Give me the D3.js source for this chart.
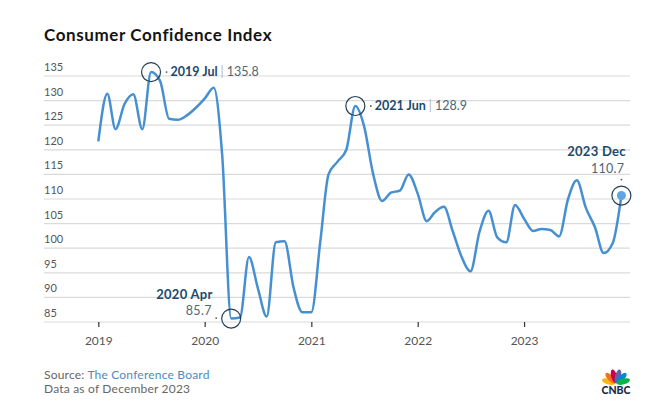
<!DOCTYPE html>
<html>
<head>
<meta charset="utf-8">
<script src="https://cdn.jsdelivr.net/npm/d3@7"></script>
<style>
  body { margin: 0; background: #fff; }
  svg { font-family: Lato, "Open Sans", sans-serif; }
</style>
</head>
<body>
<div class="canvas"></div>
<script>

// monthly index values, Jan..Dec
const years = [2019, 2020, 2021, 2022, 2023];
const cci2019 = [121.7, 131.4, 124.2, 129.3, 131.3, 124.2, 135.8, 134.0, 126.3, 126.1, 127.0, 128.5];
const cci2020 = [130.4, 132.6, 119.0, 85.7, 85.9, 98.2, 92.0, 86.1, 101.2, 101.4, 92.0, 87.0];
const cci2021 = [87.0, 101.5, 115.0, 117.6, 120.0, 128.9, 124.8, 115.1, 109.6, 111.3, 111.7, 115.0];
const cci2022 = [111.1, 105.5, 107.3, 108.4, 103.5, 98.2, 95.3, 103.3, 107.6, 102.2, 101.2, 108.8];
const cci2023 = [106.0, 103.5, 103.9, 103.7, 102.4, 110.0, 113.8, 108.2, 104.3, 99.0, 101.0, 110.7];
const yTicks = [85, 90, 95, 100, 105, 110, 115, 120, 125, 130, 135];

const highlights = [
  { year: 2019, month: 7, name: '2019 Jul', value: 135.8, side: 'right' },
  { year: 2020, month: 4, name: '2020 Apr', value: 85.7, side: 'left' },
  { year: 2021, month: 6, name: '2021 Jun', value: 128.9, side: 'right' },
  { year: 2023, month: 12, name: '2023 Dec', value: 110.7, side: 'top' }
];

const dims = { width: 660, height: 414 };

const svg = d3.select('.canvas')
  .append('svg')
  .attr('width', dims.width)
  .attr('height', dims.height);

const series = [cci2019, cci2020, cci2021, cci2022, cci2023];
const data = years.flatMap((yr, i) =>
  series[i].map((v, m) => ({ date: new Date(yr, m, 1), value: v })));

const x = d3.scaleTime()
  .domain([new Date(2019, 0, 1), new Date(2023, 11, 1)])
  .range([98.3, 621.4]);

const y = d3.scaleLinear()
  .domain([85, 135])
  .range([322, 76]);

// title
svg.append('text')
  .attr('x', 44).attr('y', 41)
  .attr('font-size', 17)
  .attr('font-weight', 700)
  .attr('letter-spacing', 0.6)
  .attr('fill', '#141414')
  .text('Consumer Confidence Index');

// grid + y labels
const grid = svg.append('g');
grid.selectAll('line').data(yTicks).enter().append('line')
  .attr('x1', 44).attr('x2', 630)
  .attr('y1', d => y(d)).attr('y2', d => y(d))
  .attr('stroke', '#dadada')
  .attr('stroke-width', 1.2);

grid.selectAll('text').data(yTicks).enter().append('text')
  .attr('x', 44).attr('y', d => y(d) - 5)
  .attr('font-size', 11)
  .attr('fill', '#555')
  .text(d => d);

// x axis
const xAxis = svg.append('g')
  .attr('transform', `translate(0, ${y(85)})`)
  .call(d3.axisBottom(x)
    .tickValues(years.map(yr => new Date(yr, 0, 1)))
    .tickFormat(d3.timeFormat('%Y'))
    .tickSize(5)
    .tickPadding(9.5));
xAxis.select('.domain').remove();
xAxis.selectAll('.tick line').attr('stroke', '#333').attr('stroke-width', 1.2);
xAxis.selectAll('.tick text')
  .attr('font-family', 'Lato, "Open Sans", sans-serif')
  .attr('font-size', 12)
  .attr('fill', '#555');

// line
const line = d3.line()
  .x(d => x(d.date))
  .y(d => y(d.value))
  .curve(d3.curveMonotoneX);

svg.append('path')
  .datum(data)
  .attr('d', line)
  .attr('fill', 'none')
  .attr('stroke', '#4690d2')
  .attr('stroke-width', 2.5)
  .attr('stroke-linejoin', 'round');

// highlights
const hl = svg.selectAll('.hl').data(highlights).enter()
  .append('g')
  .attr('class', 'hl')
  .attr('transform', d => `translate(${x(new Date(d.year, d.month - 1, 1))}, ${y(d.value)})`);

hl.filter(d => d.side === 'top').append('circle')
  .attr('r', 4.5)
  .attr('fill', '#5ea6e2');

hl.append('circle')
  .attr('r', 9.5)
  .attr('fill', 'none')
  .attr('stroke', '#243f55')
  .attr('stroke-width', 1.2);

hl.each(function(d) {
  const g = d3.select(this);
  if (d.side === 'right') {
    g.append('circle').attr('cx', 15.5).attr('cy', 0).attr('r', 0.9).attr('fill', '#555');
    const t = g.append('text').attr('x', 19.5).attr('y', 4)
      .attr('font-size', 12.5);
    t.append('tspan').attr('font-weight', 700).attr('fill', '#1b4a6a').text(d.name);
    t.append('tspan').attr('fill', '#b5b5b5').attr('dx', 3).text('|');
    t.append('tspan').attr('fill', '#4e6678').attr('dx', 3).text(d.value);
  } else if (d.side === 'left') {
    g.append('circle').attr('cx', -15).attr('cy', -0.5).attr('r', 0.9).attr('fill', '#555');
    g.append('text').attr('x', -18.5).attr('y', -20)
      .attr('text-anchor', 'end').attr('font-size', 13).attr('font-weight', 700)
      .attr('letter-spacing', 0.3)
      .attr('fill', '#1b4a6a').text(d.name);
    g.append('text').attr('x', -19.5).attr('y', -4)
      .attr('text-anchor', 'end').attr('font-size', 12.5).attr('fill', '#4e6678')
      .attr('letter-spacing', 0.3)
      .text(d.value);
  } else {
    g.append('circle').attr('cx', 0).attr('cy', -16).attr('r', 0.9).attr('fill', '#555');
    g.append('text').attr('x', 4.5).attr('y', -39.5)
      .attr('text-anchor', 'end').attr('font-size', 13).attr('font-weight', 700)
      .attr('letter-spacing', 0.3)
      .attr('fill', '#1b4a6a').text(d.name);
    g.append('text').attr('x', 3).attr('y', -23)
      .attr('text-anchor', 'end').attr('font-size', 12.5).attr('fill', '#4e6678')
      .attr('letter-spacing', 0.3)
      .text(d.value);
  }
});

// footer
const src = svg.append('text').attr('x', 44).attr('y', 379)
  .attr('font-size', 12).attr('letter-spacing', 0.2);
src.append('tspan').attr('fill', '#666').text('Source: ');
src.append('tspan').attr('fill', '#4a8ac4').text('The Conference Board');
svg.append('text').attr('x', 44).attr('y', 393).attr('font-size', 12)
  .attr('letter-spacing', 0.2)
  .attr('fill', '#666').text('Data as of December 2023');

// CNBC peacock
const logo = svg.append('g').attr('transform', 'translate(616, 383.5)');
const feathers = ['#fcb711', '#f37021', '#cc004c', '#6460aa', '#0089d0', '#0db14b'];
feathers.forEach((c, i) => {
  const a = -75 + i * 30;
  logo.append('ellipse')
    .attr('cx', 0).attr('cy', -7.5)
    .attr('rx', 2.9).attr('ry', 7)
    .attr('fill', c)
    .attr('transform', `rotate(${a})`);
});
logo.append('text')
  .attr('x', 0).attr('y', 10)
  .attr('text-anchor', 'middle')
  .attr('font-size', 10.5)
  .attr('font-weight', 900)
  .attr('fill', '#1a2a44')
  .text('CNBC');

</script>
</body>
</html>
